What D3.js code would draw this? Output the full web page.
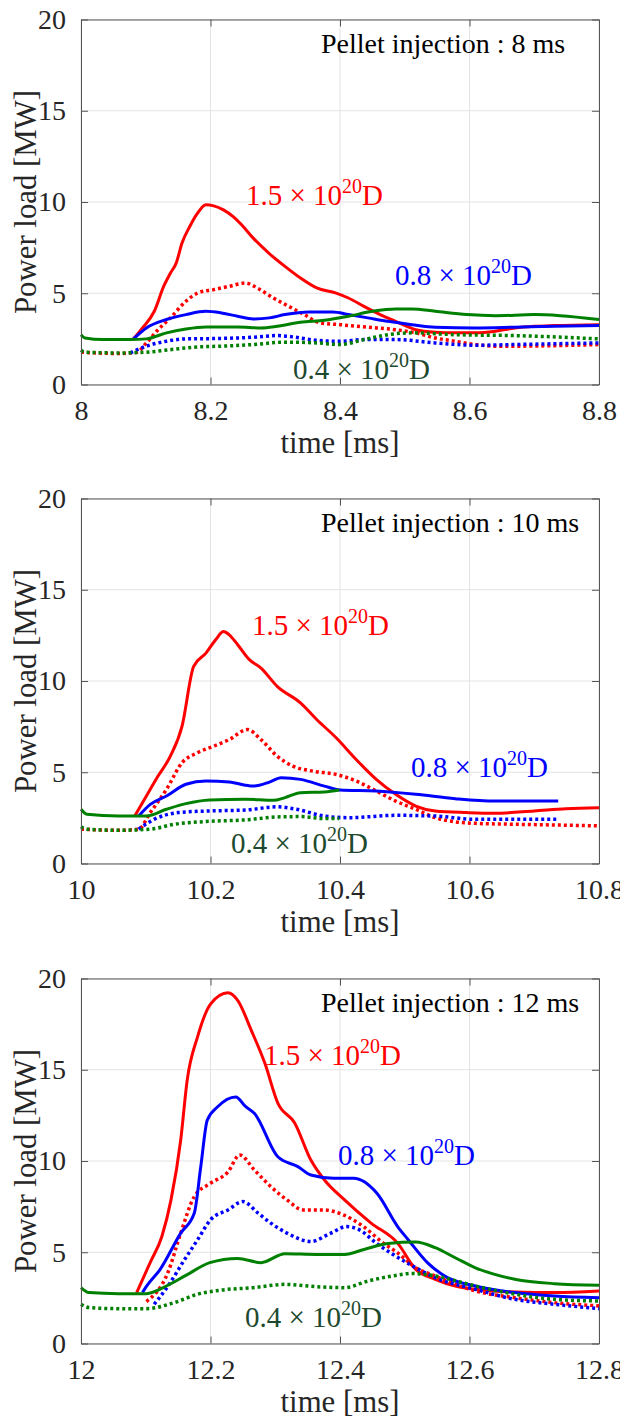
<!DOCTYPE html>
<html>
<head>
<meta charset="utf-8">
<script src="https://cdn.jsdelivr.net/npm/d3@7"></script>
<style>
body { margin: 0; background: #fff; }
svg { display: block; }
</style>
</head>
<body>
<div id="plot"></div>
<script>
var width = 620, height = 1421;
var plotLeft = 81, plotRight = 599;
var panelTop = [19.5, 498.5, 978.5];
var panelH = 365;

var yTicks = [0, 5, 10, 15, 20];
var pelletTimes = [8, 10, 12];
var pelletLabels = ["Pellet injection : 8 ms", "Pellet injection : 10 ms", "Pellet injection : 12 ms"];
var amountLabels = ["1.5", "0.8", "0.4"];

// ---- 8 ms panel, [time ms, power MW]
var p8RedSolid = [[8.08,2.46],[8.095,3.1],[8.113,4.0],[8.128,5.4],[8.138,6.1],[8.147,6.65],[8.156,7.75],[8.168,8.66],[8.18,9.39],[8.193,9.85],[8.205,9.79],[8.22,9.57],[8.235,9.2],[8.248,8.75],[8.266,8.02],[8.29,7.2],[8.315,6.47],[8.339,5.83],[8.364,5.29],[8.394,5.01],[8.413,4.74],[8.437,4.28],[8.462,3.83],[8.486,3.46],[8.517,3.0],[8.547,2.86],[8.578,2.83],[8.609,2.83],[8.64,2.92],[8.67,3.1],[8.7,3.19],[8.731,3.23],[8.8,3.28]];
var p8RedDot = [[8.0,1.77],[8.058,1.7],[8.086,1.77],[8.101,2.28],[8.119,3.0],[8.138,3.65],[8.162,4.56],[8.18,5.01],[8.205,5.2],[8.229,5.38],[8.254,5.56],[8.272,5.29],[8.297,4.74],[8.321,4.28],[8.345,3.83],[8.37,3.37],[8.4,3.28],[8.425,3.19],[8.456,3.1],[8.486,3.0],[8.517,2.83],[8.547,2.55],[8.578,2.37],[8.609,2.19],[8.64,2.1],[8.67,2.1],[8.731,2.13],[8.8,2.19]];
var p8BlueSolid = [[8.08,2.46],[8.101,3.1],[8.132,3.56],[8.162,3.83],[8.193,4.01],[8.217,3.92],[8.242,3.74],[8.266,3.59],[8.291,3.65],[8.315,3.83],[8.352,3.97],[8.389,3.97],[8.413,3.83],[8.443,3.65],[8.474,3.46],[8.511,3.28],[8.547,3.14],[8.609,3.1],[8.67,3.14],[8.731,3.19],[8.8,3.23]];
var p8BlueDot = [[8.076,1.73],[8.101,2.1],[8.132,2.37],[8.162,2.5],[8.211,2.52],[8.266,2.59],[8.303,2.68],[8.327,2.61],[8.364,2.42],[8.4,2.37],[8.437,2.46],[8.486,2.46],[8.547,2.28],[8.609,2.15],[8.67,2.19],[8.8,2.28]];
var p8GreenSolid = [[8.0,2.73],[8.006,2.55],[8.034,2.46],[8.076,2.46],[8.101,2.5],[8.132,2.83],[8.162,3.04],[8.193,3.15],[8.242,3.15],[8.278,3.1],[8.303,3.19],[8.339,3.41],[8.376,3.52],[8.413,3.74],[8.45,4.01],[8.486,4.14],[8.511,4.14],[8.547,4.01],[8.596,3.83],[8.64,3.77],[8.7,3.83],[8.74,3.77],[8.8,3.56]];
var p8GreenDot = [[8.0,1.88],[8.006,1.77],[8.058,1.73],[8.101,1.77],[8.138,1.91],[8.18,2.06],[8.217,2.1],[8.266,2.19],[8.315,2.32],[8.364,2.28],[8.4,2.19],[8.437,2.46],[8.474,2.73],[8.511,2.83],[8.578,2.73],[8.67,2.68],[8.8,2.5]];

// ---- 10 ms panel
var p10RedSolid = [[10.083,2.6],[10.101,3.7],[10.119,4.79],[10.138,5.88],[10.156,7.52],[10.174,10.8],[10.193,11.53],[10.208,12.26],[10.22,12.71],[10.229,12.53],[10.242,11.99],[10.26,11.17],[10.278,10.71],[10.303,9.71],[10.339,8.8],[10.364,7.89],[10.394,6.89],[10.425,5.7],[10.456,4.61],[10.486,3.79],[10.517,3.15],[10.547,2.88],[10.596,2.79],[10.639,2.75],[10.7,2.88],[10.749,3.0],[10.8,3.06]];
var p10RedDot = [[10.0,1.88],[10.058,1.82],[10.089,1.88],[10.107,2.79],[10.132,4.06],[10.156,5.52],[10.18,6.07],[10.205,6.43],[10.229,6.79],[10.257,7.34],[10.278,6.79],[10.303,5.88],[10.327,5.34],[10.358,5.06],[10.394,4.88],[10.425,4.52],[10.456,3.97],[10.486,3.42],[10.517,2.97],[10.547,2.51],[10.578,2.28],[10.609,2.2],[10.67,2.15],[10.731,2.11],[10.8,2.06]];
var p10BlueSolid = [[10.089,2.6],[10.107,3.24],[10.132,3.7],[10.162,4.34],[10.193,4.52],[10.229,4.46],[10.266,4.24],[10.291,4.46],[10.309,4.7],[10.339,4.61],[10.376,4.24],[10.4,4.03],[10.456,3.97],[10.517,3.79],[10.578,3.55],[10.639,3.42],[10.7,3.42],[10.737,3.42]];
var p10BlueDot = [[10.089,1.88],[10.113,2.42],[10.15,2.79],[10.199,2.88],[10.254,2.93],[10.303,3.11],[10.333,2.97],[10.376,2.6],[10.413,2.51],[10.486,2.64],[10.547,2.6],[10.609,2.42],[10.67,2.42],[10.737,2.42]];
var p10GreenSolid = [[10.0,2.97],[10.009,2.7],[10.058,2.6],[10.101,2.6],[10.132,2.97],[10.162,3.28],[10.199,3.48],[10.254,3.52],[10.297,3.46],[10.315,3.61],[10.339,3.88],[10.376,3.92],[10.399,4.03]];
var p10GreenDot = [[10.0,2.02],[10.009,1.88],[10.058,1.82],[10.107,1.88],[10.144,2.15],[10.193,2.3],[10.254,2.39],[10.303,2.55],[10.339,2.57],[10.376,2.46],[10.399,2.46]];

// ---- 12 ms panel
var p12RedSolid = [[12.086,2.79],[12.107,4.45],[12.125,5.88],[12.139,7.87],[12.154,11.15],[12.164,14.43],[12.18,16.8],[12.2,18.6],[12.227,19.22],[12.242,18.8],[12.263,17.16],[12.284,15.35],[12.304,13.17],[12.33,12.08],[12.355,10.05],[12.376,8.96],[12.407,7.87],[12.448,6.6],[12.489,5.5],[12.517,4.06],[12.547,3.52],[12.578,3.15],[12.609,2.97],[12.67,2.82],[12.731,2.79],[12.8,2.88]];
var p12RedDot = [[12.101,2.3],[12.134,3.87],[12.154,6.05],[12.175,8.05],[12.2,8.78],[12.227,9.4],[12.245,10.33],[12.268,9.5],[12.293,8.6],[12.318,7.87],[12.343,7.32],[12.374,7.32],[12.405,7.05],[12.436,6.41],[12.467,5.5],[12.489,4.97],[12.517,4.15],[12.547,3.7],[12.578,3.24],[12.609,2.88],[12.67,2.51],[12.731,2.24],[12.8,2.06]];
var p12BlueSolid = [[12.095,2.79],[12.101,3.13],[12.122,4.05],[12.154,6.05],[12.175,7.15],[12.185,9.7],[12.195,12.24],[12.211,12.97],[12.239,13.51],[12.254,12.99],[12.268,12.6],[12.304,10.23],[12.335,9.69],[12.355,9.23],[12.39,9.05],[12.421,9.05],[12.457,8.23],[12.489,6.41],[12.505,5.7],[12.535,4.43],[12.566,3.61],[12.609,3.15],[12.67,2.79],[12.731,2.6],[12.8,2.51]];
var p12BlueDot = [[12.113,2.15],[12.134,3.13],[12.16,4.6],[12.18,5.68],[12.2,6.78],[12.227,7.32],[12.25,7.78],[12.273,7.16],[12.293,6.6],[12.318,6.05],[12.355,5.59],[12.386,6.05],[12.41,6.41],[12.43,6.23],[12.456,5.5],[12.478,4.97],[12.517,4.15],[12.547,3.61],[12.609,2.97],[12.67,2.42],[12.731,2.15],[12.8,1.91]];
var p12GreenSolid = [[12.0,3.06],[12.012,2.79],[12.058,2.73],[12.101,2.73],[12.132,3.15],[12.162,3.73],[12.199,4.43],[12.242,4.66],[12.278,4.43],[12.315,4.92],[12.364,4.88],[12.407,4.88],[12.437,5.15],[12.474,5.48],[12.517,5.56],[12.547,5.25],[12.578,4.7],[12.609,4.15],[12.639,3.79],[12.67,3.52],[12.731,3.28],[12.8,3.19]];
var p12GreenDot = [[12.0,2.15],[12.012,1.97],[12.058,1.91],[12.101,1.91],[12.144,2.24],[12.18,2.7],[12.217,2.93],[12.266,3.06],[12.315,3.24],[12.364,3.11],[12.407,3.06],[12.443,3.42],[12.486,3.73],[12.511,3.84],[12.547,3.7],[12.609,3.15],[12.67,2.7],[12.731,2.42],[12.8,2.33]];

var panelSeries = [
  [p8RedSolid, p8RedDot, p8BlueSolid, p8BlueDot, p8GreenSolid, p8GreenDot],
  [p10RedSolid, p10RedDot, p10BlueSolid, p10BlueDot, p10GreenSolid, p10GreenDot],
  [p12RedSolid, p12RedDot, p12BlueSolid, p12BlueDot, p12GreenSolid, p12GreenDot]
];
var seriesColor = ["#ff0000", "#ff0000", "#0000ff", "#0000ff", "#008000", "#008000"];
var seriesDotted = [false, true, false, true, false, true];
var labelColor = ["#ff0000", "#0000ff", "#1d4a2e"];

// where the annotations sit (px, start x and baseline offset from panel top)
var labelPos = [
  [[246, 185.5], [395, 265.5], [293, 359.5]],
  [[252, 136.5], [411, 278.5], [231, 354.5]],
  [[264, 86.5], [338, 186.5], [245, 348.5]]
];

var font = "'Liberation Serif', 'Times New Roman', serif";
var textCol = "#262626";

var svg = d3.select("#plot").append("svg")
  .attr("width", width)
  .attr("height", height);

panelSeries.forEach(function(series, p) {
  var t0 = pelletTimes[p];
  var top = panelTop[p];
  var x = d3.scaleLinear().domain([t0, t0 + 0.8]).range([plotLeft, plotRight]);
  var y = d3.scaleLinear().domain([0, 20]).range([top + panelH, top]);
  var xTicks = d3.range(0, 5).map(function(i) { return +(t0 + i * 0.2).toFixed(1); });

  var g = svg.append("g");

  // grid
  g.selectAll(".gx").data(xTicks).enter().append("line")
    .attr("x1", function(d) { return x(d); }).attr("x2", function(d) { return x(d); })
    .attr("y1", top).attr("y2", top + panelH)
    .attr("stroke", "#e3e3e3").attr("stroke-width", 1);
  g.selectAll(".gy").data(yTicks).enter().append("line")
    .attr("x1", plotLeft).attr("x2", plotRight)
    .attr("y1", function(d) { return y(d); }).attr("y2", function(d) { return y(d); })
    .attr("stroke", "#e3e3e3").attr("stroke-width", 1);

  // lines
  var line = d3.line()
    .x(function(d) { return x(d[0]); })
    .y(function(d) { return y(d[1]); })
    .curve(d3.curveMonotoneX);

  series.forEach(function(s, i) {
    g.append("path")
      .datum(s)
      .attr("d", line)
      .attr("fill", "none")
      .attr("stroke", seriesColor[i])
      .attr("stroke-width", seriesDotted[i] ? 3.5 : 3)
      .attr("stroke-dasharray", seriesDotted[i] ? "3,3" : null)
      .attr("stroke-linejoin", "round");
  });

  // axes (MATLAB style box with inward ticks)
  var ax = d3.axisBottom(x).tickValues(xTicks).tickSizeInner(-7).tickSizeOuter(0)
    .tickFormat(function(d) { return String(d); }).tickPadding(16);
  var axB = g.append("g").attr("transform", "translate(0," + (top + panelH) + ")").call(ax);
  var axT = g.append("g").attr("transform", "translate(0," + top + ")")
    .call(d3.axisTop(x).tickValues(xTicks).tickSizeInner(-7).tickSizeOuter(0).tickFormat(""));
  var axL = g.append("g").attr("transform", "translate(" + plotLeft + ",0)")
    .call(d3.axisLeft(y).tickValues(yTicks).tickSizeInner(-7).tickSizeOuter(0).tickPadding(15));
  var axR = g.append("g").attr("transform", "translate(" + plotRight + ",0)")
    .call(d3.axisRight(y).tickValues(yTicks).tickSizeInner(-7).tickSizeOuter(0).tickFormat(""));
  [axB, axT, axL, axR].forEach(function(a) {
    a.selectAll("path, line").attr("stroke", "#555").attr("stroke-width", 1);
    a.selectAll("text").attr("font-family", font).attr("font-size", "28px").attr("fill", textCol);
  });
  axB.selectAll("text").attr("dy", "0.71em");

  // axis titles
  g.append("text")
    .attr("x", (plotLeft + plotRight) / 2)
    .attr("y", top + panelH + 68)
    .attr("text-anchor", "middle")
    .attr("font-family", font).attr("font-size", "30.8px").attr("fill", textCol)
    .text("time [ms]");
  g.append("text")
    .attr("transform", "translate(36," + (top + panelH / 2) + ") rotate(-90)")
    .attr("text-anchor", "middle")
    .attr("font-family", font).attr("font-size", "30.8px").attr("fill", textCol)
    .text("Power load [MW]");

  // pellet text
  g.append("text")
    .attr("x", 321).attr("y", top + 33)
    .attr("font-family", font).attr("font-size", "28px").attr("fill", "#000")
    .text(pelletLabels[p]);

  // amount labels with superscript
  labelPos[p].forEach(function(pos, k) {
    var t = g.append("text")
      .attr("x", pos[0]).attr("y", top + pos[1])
      .attr("font-family", font).attr("font-size", "29px").attr("fill", labelColor[k]);
    t.append("tspan").text(amountLabels[k] + " \u00d7 10");
    t.append("tspan").attr("font-size", "20px").attr("dy", -12).text("20");
    t.append("tspan").attr("dy", 12).text("D");
  });
});
</script>
</body>
</html>
